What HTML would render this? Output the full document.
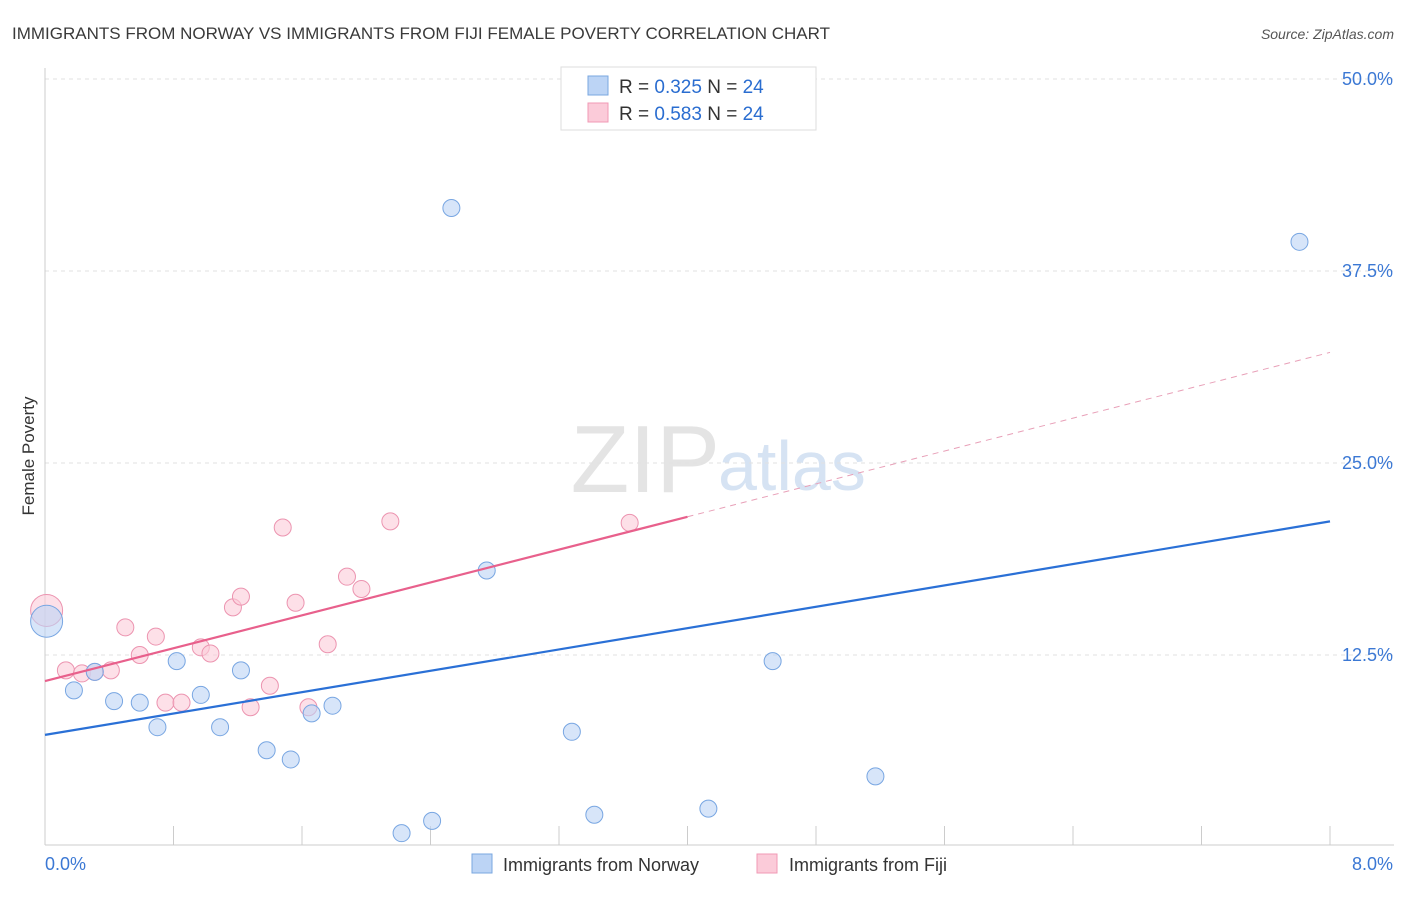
<!DOCTYPE html>
<html><head><meta charset="utf-8"><style>
body{margin:0;background:#fff;font-family:"Liberation Sans",sans-serif;}
svg text{font-family:"Liberation Sans",sans-serif;}
</style></head><body>
<svg width="1406" height="892" id="c">
<text x="12" y="39" font-size="17" fill="#3a3a3a">IMMIGRANTS FROM NORWAY VS IMMIGRANTS FROM FIJI FEMALE POVERTY CORRELATION CHART</text>
<text x="1394" y="39" font-size="14" fill="#555" font-style="italic" text-anchor="end">Source: ZipAtlas.com</text>
<text x="720" y="492" font-size="96" fill="#e4e4e4" font-family="Liberation Serif" text-anchor="end">ZIP</text>
<text x="718" y="490" font-size="70" fill="#d6e3f3">atlas</text>
<text x="34" y="456" font-size="17" fill="#333" transform="rotate(-90 34 456)" text-anchor="middle">Female Poverty</text>
<g id="grid"></g><g id="marks"></g>
<g>
<rect x="561" y="67" width="255" height="63" fill="#fff" stroke="#ddd"/>
<rect x="588" y="76" width="20" height="19" fill="#bcd4f5" stroke="#7aa7e0"/>
<rect x="588" y="103" width="20" height="19" fill="#fbcbd9" stroke="#f09ab5"/>
<text x="619" y="93" font-size="19" fill="#333">R = <tspan fill="#2a6dd0">0.325</tspan>   N = <tspan fill="#2a6dd0">24</tspan></text>
<text x="619" y="120" font-size="19" fill="#333">R = <tspan fill="#2a6dd0">0.583</tspan>   N = <tspan fill="#2a6dd0">24</tspan></text>
</g>
<g>
<rect x="472" y="854" width="20" height="19" fill="#bcd4f5" stroke="#7aa7e0"/>
<text x="503" y="871" font-size="18" fill="#333">Immigrants from Norway</text>
<rect x="757" y="854" width="20" height="19" fill="#fbcbd9" stroke="#f09ab5"/>
<text x="789" y="871" font-size="18" fill="#333">Immigrants from Fiji</text>
</g>
</svg>
<script>
const norwayX=[0.01,0.18,0.31,0.43,0.59,0.70,0.82,0.97,1.09,1.22,1.38,1.53,1.66,1.79,2.22,2.41,2.53,2.75,3.28,3.42,4.13,4.53,5.17,7.81];
const norwayY=[14.7,10.2,11.4,9.5,9.4,7.8,12.1,9.9,7.8,11.5,6.3,5.7,8.7,9.2,0.9,1.7,41.6,18.0,7.5,2.1,2.5,12.1,4.6,39.4];
const fijiX=[0.01,0.13,0.23,0.31,0.41,0.50,0.59,0.69,0.75,0.85,0.97,1.03,1.17,1.22,1.28,1.40,1.48,1.56,1.64,1.76,1.88,1.97,2.15,3.64];
const fijiY=[15.4,11.5,11.3,11.4,11.5,14.3,12.5,13.7,9.4,9.4,13.0,12.6,15.6,16.3,9.1,10.5,20.8,15.9,9.1,13.2,17.6,16.8,21.2,21.1];
const yTicks=[12.5,25.0,37.5,50.0];
const trendNorway=[7.3,21.2];
const trendFiji=[10.8,32.2];
const fijiSolidEnd=4.0;
const X=v=>45+v*1285/8, Y=v=>847-v*15.36;
const NS="http://www.w3.org/2000/svg";
const svg=document.getElementById('c'),grid=document.getElementById('grid'),marks=document.getElementById('marks');
function mk(tag,a,p){const e=document.createElementNS(NS,tag);for(const k in a)e.setAttribute(k,a[k]);(p||svg).appendChild(e);return e;}
yTicks.forEach(t=>{
 const l=mk('line',{x1:45,x2:1394,y1:Y(t),y2:Y(t),stroke:'#e2e2e2','stroke-dasharray':'4 4'},grid);
 
 
 const tx=mk('text',{x:1393,y:Y(t)+6,'font-size':18,fill:'#3b78d4','text-anchor':'end'},grid);
 tx.textContent=t.toFixed(1)+'%';
 
 
});
const ax=mk('line',{x1:45,x2:1394,y1:845,y2:845,stroke:'#ccc'},grid);


const ay=mk('line',{x1:45,x2:45,y1:68,y2:845,stroke:'#ccc'},grid);


for(let i=0;i<=10;i++){const t=mk('line',{x1:X(i*0.8),x2:X(i*0.8),y1:826,y2:845,stroke:'#ccc'},grid);
 
 }
[['0.0%',45,'start'],['8.0%',1393,'end']].forEach(([s,x,a])=>{const t=mk('text',{x:x,y:870,'font-size':18,fill:'#3b78d4','text-anchor':a},grid);t.textContent=s;
 
 });
function dots(xs,ys,fill,stroke,name){xs.forEach((x,i)=>{const r=i===0?16:8.5;
 const c=mk('circle',{cx:X(x),cy:Y(ys[i]),r:r,fill:fill,'fill-opacity':0.6,stroke:stroke,'stroke-width':1},marks);
 
 });}
dots(fijiX,fijiY,'#fbcbd9','#ec94b0','fiji-point');
dots(norwayX,norwayY,'#bcd4f5','#78a6e2','norway-point');
const bl=mk('line',{x1:X(0),y1:Y(trendNorway[0]),x2:X(8),y2:Y(trendNorway[1]),stroke:'#2a70d6','stroke-width':2.2},marks);


const fy=v=>trendFiji[0]+(trendFiji[1]-trendFiji[0])*v/8;
const pl=mk('line',{x1:X(0),y1:Y(fy(0)),x2:X(fijiSolidEnd),y2:Y(fy(fijiSolidEnd)),stroke:'#e8608c','stroke-width':2.2},marks);


const pd=mk('line',{x1:X(fijiSolidEnd),y1:Y(fy(fijiSolidEnd)),x2:X(8),y2:Y(fy(8)),stroke:'#e8a0b8','stroke-width':1,'stroke-dasharray':'6 5'},marks);


</script>
</body></html>
